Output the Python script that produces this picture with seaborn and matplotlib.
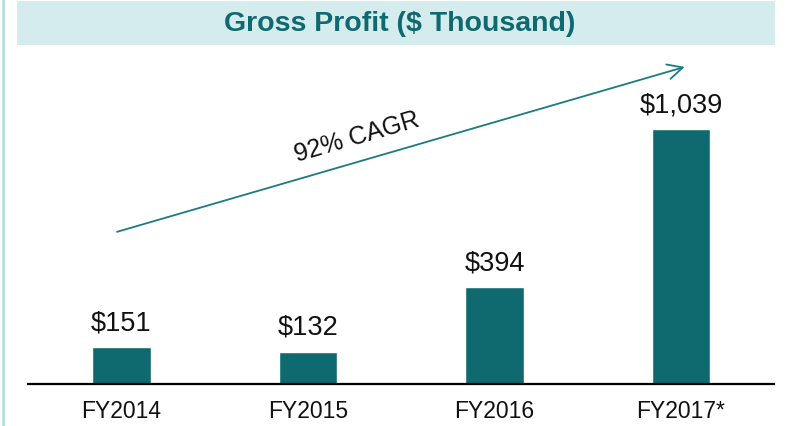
import matplotlib
matplotlib.use("Agg")
import matplotlib.pyplot as plt
import matplotlib.patches as mpatches
import pandas as pd
import seaborn as sns

# Chart data
years = ["FY2014", "FY2015", "FY2016", "FY2017*"]
gross_profit = [151, 132, 394, 1039]
value_labels = ["$151", "$132", "$394", "$1,039"]
title = "Gross Profit ($ Thousand)"
cagr_text = "92% CAGR"

bar_color = "#0f6a70"
title_color = "#0f6a70"
band_color = "#d5ecef"
arrow_color = "#1b7b80"

sns.set_theme(style="white")
plt.rcParams["font.family"] = ["Liberation Sans", "DejaVu Sans"]

df = pd.DataFrame({"year": years, "profit": gross_profit})

W, H = 792, 427
fig = plt.figure(figsize=(W / 100, H / 100), dpi=100)

# axes placed in pixel terms: left 28, right 774, baseline at y=385, top at y=66
ax = fig.add_axes([28.25 / W, (H - 385) / H, 746 / W, 319 / H])
sns.barplot(data=df, x="year", y="profit", color=bar_color, width=0.316,
            saturation=1, ax=ax)
ax.set_xlim(-0.5, 3.5)
ax.set_ylim(0, 1300)

for i, (v, lab) in enumerate(zip(gross_profit, value_labels)):
    ax.text(i, v + 48, lab, ha="center", va="bottom", fontsize=19.5, color="#111111")

ax.set_xlabel("")
ax.set_ylabel("")
ax.set_yticks([])
ax.tick_params(axis="x", length=0, labelsize=16.5, colors="#111111", pad=11)
for s in ["top", "right", "left"]:
    ax.spines[s].set_visible(False)
ax.spines["bottom"].set_color("black")
ax.spines["bottom"].set_linewidth(1.6)

# CAGR arrow
ax.annotate("", xy=(0.880, 0.994), xytext=(0.119, 0.477), xycoords="axes fraction",
            textcoords="axes fraction",
            arrowprops=dict(arrowstyle="->,head_length=0.9,head_width=0.45",
                            color=arrow_color, lw=1.3, shrinkA=0, shrinkB=0),
            annotation_clip=False)
ax.text(0.440, 0.777, cagr_text, transform=ax.transAxes, rotation=16.2,
        rotation_mode="anchor", ha="center", va="center", fontsize=18,
        color="#111111")

# title band
fig.patches.append(mpatches.Rectangle((17 / W, (H - 46) / H), 758 / W, 44 / H,
                                      transform=fig.transFigure, facecolor=band_color,
                                      edgecolor="none", zorder=0))
fig.text(400 / W, (H - 24) / H, title, ha="center", va="center", fontsize=20.5,
         fontweight="bold", color=title_color,
         family=["Liberation Sans Narrow", "Liberation Sans", "DejaVu Sans"])

# left border line
fig.lines.append(plt.Line2D([3 / W, 3 / W], [0, 1], transform=fig.transFigure,
                            color="#b5dfe2", lw=2))

fig.savefig("out.png", dpi=100)
